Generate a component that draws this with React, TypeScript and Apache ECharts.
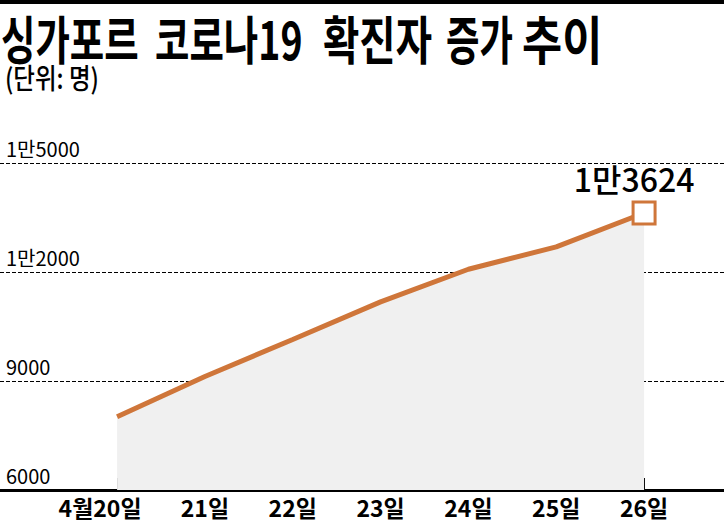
import React, { useEffect, useRef } from 'react';
import * as echarts from 'echarts';

// 싱가포르 코로나19 확진자 (4월 20일 ~ 26일)
const categories = ['4월20일', '21일', '22일', '23일', '24일', '25일', '26일'];
const confirmed = [8014, 9125, 10141, 11178, 12075, 12693, 13624];
const yTickValues = [6000, 9000, 12000, 15000];
const yTickLabels = ['6000', '9000', '1만2000', '1만5000'];
const lastLabel = '1만3624';
// 제목 단어, 각 단어의 왼쪽 x와 가로 배율
const titleWords = ['싱가포르', '코로나19', '확진자', '증가', '추이'];
const titleX = [1, 155, 323, 446, 522];
const titleScale = [0.72, 0.72, 0.76, 0.7, 0.84];

const ORANGE = '#cf763a';
const KR = "'Noto Sans CJK KR', sans-serif";

const App = () => {
  const chartRef = useRef(null);

  useEffect(() => {
    const chart = echarts.init(chartRef.current, null, { renderer: 'svg' });
    const idx = categories.map((_, i) => i);
    const last = confirmed.length - 1;

    const seriesData = confirmed.map((v, i) =>
      i === last
        ? {
            value: [i, v],
            symbol: 'rect',
            symbolSize: 22,
            itemStyle: { color: '#fff', borderColor: ORANGE, borderWidth: 3 },
            label: {
              show: true,
              position: 'top',
              distance: 6,
              offset: [-10, 0],
              formatter: lastLabel,
              fontSize: 32,
              fontWeight: 500,
              fontFamily: KR,
              color: '#000',
            },
          }
        : { value: [i, v], symbol: 'none', symbolSize: 0 }
    );

    const titleEls = titleWords.map((w, i) => ({
      type: 'text',
      x: titleX[i],
      y: 37,
      scaleX: titleScale[i],
      style: { text: w, font: `bold 52px ${KR}`, fill: '#000', verticalAlign: 'middle' },
    }));

    const options = {
      animation: false,
      grid: { left: 0, right: 0, top: 163, bottom: 32 },
      graphic: [
        {
          type: 'rect',
          z: 10,
          shape: { x: 0, y: 0, width: 724, height: 4 },
          style: { fill: '#000' },
        },
        ...titleEls,
        {
          type: 'text',
          x: 5,
          y: 63,
          scaleX: 0.84,
          style: { text: '(단위: 명)', font: `500 28px ${KR}`, fill: '#000' },
        },
      ],
      xAxis: {
        type: 'value',
        min: -1.333,
        max: 6.91,
        splitLine: { show: false },
        axisLine: { show: true, onZero: false, lineStyle: { color: '#000', width: 3 } },
        axisTick: {
          show: true,
          inside: true,
          length: 12,
          customValues: idx,
          lineStyle: { color: '#000', width: 1 },
        },
        axisLabel: {
          customValues: idx,
          margin: 5,
          color: '#000',
          fontSize: 23,
          fontWeight: 'bold',
          fontFamily: KR,
          formatter: (v: number) => {
            const i = Math.round(v);
            return i === 0 ? `{first|${categories[i]}}` : categories[i];
          },
          rich: {
            first: {
              fontSize: 23,
              fontWeight: 'bold',
              fontFamily: KR,
              color: '#000',
              padding: [0, 34, 0, 0],
            },
          },
        },
      },
      yAxis: {
        type: 'value',
        min: 6000,
        max: 15000,
        interval: 3000,
        axisLine: { show: false },
        axisTick: { show: false },
        splitLine: { show: true, lineStyle: { color: '#000', type: [4, 2], width: 1 } },
        axisLabel: {
          inside: true,
          margin: 6,
          verticalAlign: 'bottom',
          padding: [0, 0, 5, 0],
          color: '#000',
          fontSize: 20,
          fontFamily: KR,
          formatter: (v: number) => yTickLabels[yTickValues.indexOf(v)] ?? '',
        },
      },
      series: [
        {
          type: 'line',
          data: seriesData,
          lineStyle: { color: ORANGE, width: 5 },
          itemStyle: { color: ORANGE },
          areaStyle: { color: '#f0f0f0', opacity: 1, origin: 'start' },
          z: 3,
        },
      ],
    };

    chart.setOption(options);

    const onResize = () => chart.resize();
    window.addEventListener('resize', onResize);
    return () => {
      window.removeEventListener('resize', onResize);
      chart.dispose();
    };
  }, []);

  return (
    <div
      ref={chartRef}
      style={{ position: 'fixed', left: 0, top: 0, width: '724px', height: '522px', background: '#fff' }}
    ></div>
  );
};

export default App;
